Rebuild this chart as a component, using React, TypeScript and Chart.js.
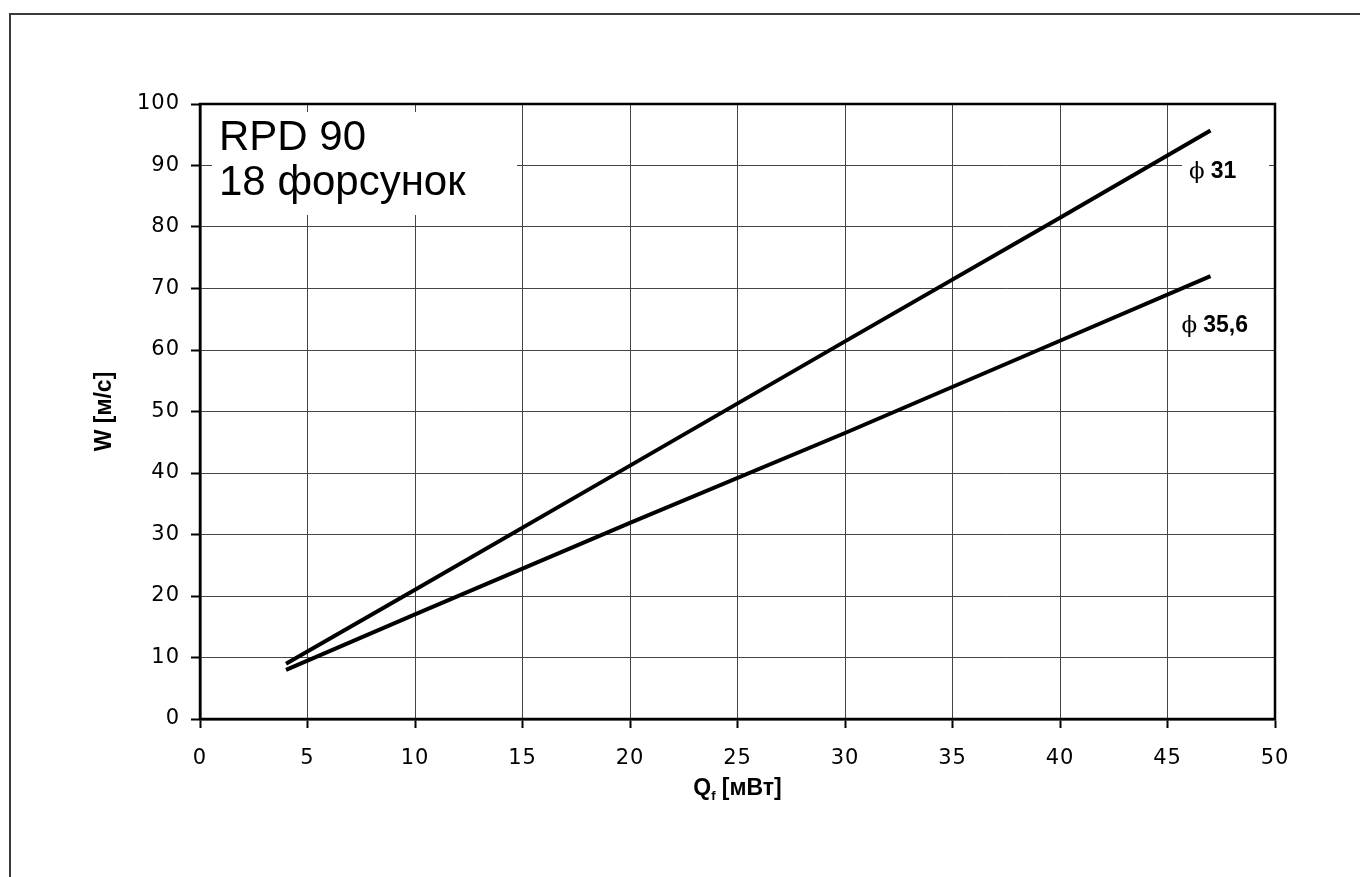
import React, { useEffect, useRef } from "react";
import { Chart, registerables } from "chart.js";

Chart.register(...registerables);

// ---- data ----
const X_VALUES = [4, 10, 20, 30, 40, 47];
const PHI_31 = [9, 21, 41.2, 61.4, 81.5, 95.7];
const PHI_35_6 = [8, 17, 31.9, 46.5, 61.5, 72];
const SERIES_NAMES = ["31", "35,6"];
const X_MIN = 0;
const X_MAX = 50;
const X_STEP = 5;
const Y_MIN = 0;
const Y_MAX = 100;
const Y_STEP = 10;
const TITLE_LINES = ["RPD 90", "18 форсунок"];
const Y_TITLE = "W [м/с]";
const X_TITLE_MAIN = "Q";
const X_TITLE_SUB = "f";
const X_TITLE_REST = " [мВт]";
const PHI = "\u03D5";

const SANS = "'Liberation Sans', Arial, sans-serif";
const TICK_FONT = "'DejaVu Sans', sans-serif";

const decorPlugin = {
  id: "decor",
  beforeDraw(chart: any) {
    const { ctx, width, height } = chart;
    ctx.save();
    ctx.fillStyle = "#fff";
    ctx.fillRect(0, 0, width, height);
    ctx.strokeStyle = "#3a3a3a";
    ctx.lineWidth = 2;
    ctx.beginPath();
    ctx.moveTo(10, height);
    ctx.lineTo(10, 14);
    ctx.lineTo(width, 14);
    ctx.stroke();
    ctx.restore();
    // wider tracking for the tick labels, as in the reference
    (ctx as any).letterSpacing = "1px";
  },
  beforeDatasetsDraw(chart: any) {
    const { ctx, chartArea } = chart;
    const { left, top, right, bottom } = chartArea;
    ctx.save();
    (ctx as any).letterSpacing = "0px";
    // white boxes behind annotation texts
    ctx.fillStyle = "#fff";
    ctx.fillRect(left + 12, top + 8, 305, 103);
    ctx.fillRect(right - 93, top + 50, 87, 34);
    // plot frame
    ctx.strokeStyle = "#000";
    ctx.lineWidth = 2.5;
    ctx.strokeRect(left, top, right - left, bottom - top);

    // title box text
    ctx.fillStyle = "#000";
    ctx.textBaseline = "alphabetic";
    ctx.textAlign = "left";
    ctx.font = `42px ${SANS}`;
    ctx.fillText(TITLE_LINES[0], left + 19, top + 46);
    ctx.fillText(TITLE_LINES[1], left + 19, top + 91);

    // series labels
    const xs = chart.scales.x;
    const ys = chart.scales.y;
    const drawPhi = (name: string, xv: number, yv: number) => {
      const px = xs.getPixelForValue(xv);
      const py = ys.getPixelForValue(yv);
      ctx.font = `23px 'DejaVu Serif', 'Liberation Serif', serif`;
      ctx.fillText(PHI, px, py);
      const w = ctx.measureText(PHI).width;
      ctx.font = `bold 23px ${SANS}`;
      ctx.fillText(name, px + w + 6, py);
    };
    drawPhi(SERIES_NAMES[0], 46.0, 88.0);
    drawPhi(SERIES_NAMES[1], 45.65, 63.0);
    ctx.restore();
  },
  afterDraw(chart: any) {
    const { ctx, chartArea } = chart;
    const { left, top, right, bottom } = chartArea;
    ctx.save();
    (ctx as any).letterSpacing = "0px";
    ctx.fillStyle = "#000";
    // x axis title with subscript
    const big = `bold 23px ${SANS}`;
    const small = `bold 13px ${SANS}`;
    ctx.font = big;
    const wQ = ctx.measureText(X_TITLE_MAIN).width;
    const wR = ctx.measureText(X_TITLE_REST).width;
    ctx.font = small;
    const wS = ctx.measureText(X_TITLE_SUB).width;
    const total = wQ + wS + wR;
    let x = (left + right) / 2 - total / 2;
    const base = bottom + 76;
    ctx.textAlign = "left";
    ctx.textBaseline = "alphabetic";
    ctx.font = big;
    ctx.fillText(X_TITLE_MAIN, x, base);
    x += wQ;
    ctx.font = small;
    ctx.fillText(X_TITLE_SUB, x, base + 5);
    x += wS;
    ctx.font = big;
    ctx.fillText(X_TITLE_REST, x, base);

    // y axis title rotated
    ctx.translate(left - 89, (top + bottom) / 2);
    ctx.rotate(-Math.PI / 2);
    ctx.textAlign = "center";
    ctx.font = big;
    ctx.fillText(Y_TITLE, 0, 0);
    ctx.restore();
  },
};

export default function App() {
  const ref = useRef<HTMLCanvasElement | null>(null);

  useEffect(() => {
    if (!ref.current) return;
    const mk = (ys: number[]) => X_VALUES.map((x, i) => ({ x, y: ys[i] }));
    const chart = new Chart(ref.current, {
      type: "line",
      data: {
        datasets: [
          {
            label: SERIES_NAMES[0],
            data: mk(PHI_31),
            borderColor: "#000",
            borderWidth: 4,
            pointRadius: 0,
            tension: 0,
            borderCapStyle: "butt",
          },
          {
            label: SERIES_NAMES[1],
            data: mk(PHI_35_6),
            borderColor: "#000",
            borderWidth: 4,
            pointRadius: 0,
            tension: 0,
            borderCapStyle: "butt",
          },
        ],
      },
      options: {
        animation: false,
        responsive: false,
        events: [],
        layout: { padding: { left: 0, right: 85, top: 104, bottom: 0 } },
        plugins: {
          legend: { display: false },
          tooltip: { enabled: false },
          title: { display: false },
        },
        scales: {
          x: {
            type: "linear",
            min: X_MIN,
            max: X_MAX,
            afterFit: (s: any) => {
              s.height = 158;
            },
            ticks: {
              stepSize: X_STEP,
              color: "#000",
              padding: 18,
              maxRotation: 0,
              font: { family: TICK_FONT, size: 21, weight: "normal" },
            },
            grid: {
              color: "#444",
              lineWidth: 1,
              tickColor: "#000",
              tickWidth: 2,
              tickLength: 9,
            },
            border: { color: "#000", width: 2.5 },
          },
          y: {
            type: "linear",
            min: Y_MIN,
            max: Y_MAX,
            afterFit: (s: any) => {
              s.width = 200;
            },
            ticks: {
              stepSize: Y_STEP,
              color: "#000",
              padding: 11,
              font: { family: TICK_FONT, size: 21, weight: "normal" },
            },
            grid: {
              color: "#444",
              lineWidth: 1,
              tickColor: "#000",
              tickWidth: 2,
              tickLength: 9,
            },
            border: { color: "#000", width: 2.5 },
          },
        },
      },
      plugins: [decorPlugin],
    });
    return () => chart.destroy();
  }, []);

  return (
    <div style={{ position: "fixed", left: 0, top: 0, width: 1360, height: 877, background: "#fff" }}>
      <canvas ref={ref} width={1360} height={877} style={{ display: "block" }} />
    </div>
  );
}
